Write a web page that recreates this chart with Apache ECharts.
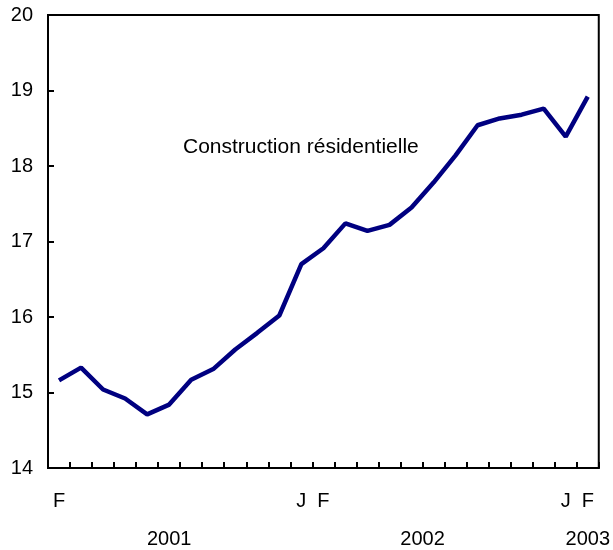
<!DOCTYPE html>
<html>
<head>
<meta charset="utf-8">
<script src="https://cdn.jsdelivr.net/npm/echarts@6/dist/echarts.min.js"></script>
<style>
  html, body { margin: 0; padding: 0; background: #fff; }
  #chart { width: 613px; height: 550px; }
</style>
</head>
<body>
<div id="chart"></div>
<script>
// months Feb 2001 .. Feb 2003
const months = ['2001-02', '2001-03', '2001-04', '2001-05', '2001-06', '2001-07', '2001-08', '2001-09', '2001-10', '2001-11', '2001-12',
  '2002-01', '2002-02', '2002-03', '2002-04', '2002-05', '2002-06', '2002-07', '2002-08', '2002-09', '2002-10', '2002-11', '2002-12',
  '2003-01', '2003-02']
const monthLabels = ['F', '', '', '', '', '', '', '', '', '', '',
  'J', 'F', '', '', '', '', '', '', '', '', '', '',
  'J', 'F']
const values = [15.16, 15.33, 15.04, 14.92, 14.71, 14.84, 15.17, 15.31, 15.57, 15.79, 16.02,
  16.70, 16.91, 17.24, 17.14, 17.22, 17.45, 17.78, 18.14, 18.54, 18.63, 18.68, 18.76,
  18.39, 18.92]
const yearLabels = ['2001', '2002', '2003']
const yearPos = [5, 16.5, 24]
const yTicks = [14, 15, 16, 17, 18, 19, 20]

const font = 'Liberation Sans, Arial, sans-serif'
const chart = echarts.init(document.getElementById('chart'))

chart.setOption({
  animation: false,
  title: {
    text: 'Construction résidentielle',
    left: 178,
    top: 132,
    textStyle: { fontFamily: font, fontSize: 21, fontWeight: 'normal', color: '#000' }
  },
  grid: {
    left: 48, right: 13, top: 15, bottom: 82,
    show: true, borderColor: '#000', borderWidth: 2
  },
  xAxis: [{
    type: 'category',
    data: months,
    boundaryGap: true,
    axisLine: { show: true, lineStyle: { color: '#000', width: 2 } },
    axisTick: { show: true, inside: true, length: 6, interval: 0, alignWithLabel: false, lineStyle: { color: '#000', width: 2 } },
    axisLabel: {
      interval: 0, margin: 23, color: '#000', fontFamily: font, fontSize: 20,
      formatter: (v, i) => monthLabels[i]
    },
    splitLine: { show: false }
  }, {
    // year labels under the months
    type: 'value',
    position: 'bottom',
    min: -0.5, max: 24.5, interval: 0.5,
    axisLine: { show: false },
    axisTick: { show: false },
    splitLine: { show: false },
    axisLabel: {
      margin: 61, color: '#000', fontFamily: font, fontSize: 20,
      formatter: v => {
        const k = yearPos.indexOf(v)
        return k >= 0 ? yearLabels[k] : ''
      }
    }
  }],
  yAxis: {
    type: 'value',
    min: yTicks[0], max: yTicks[yTicks.length - 1], interval: 1,
    axisLine: { show: true, onZero: false, lineStyle: { color: '#000', width: 2 } },
    axisTick: { show: true, inside: true, length: 6, lineStyle: { color: '#000', width: 2 } },
    axisLabel: { margin: 15, color: '#000', fontFamily: font, fontSize: 20 },
    splitLine: { show: false }
  },
  series: [{
    type: 'line',
    xAxisIndex: 0,
    data: values,
    showSymbol: false,
    lineStyle: { color: '#000080', width: 4.5 },
    itemStyle: { color: '#000080' }
  }]
})
</script>
</body>
</html>
